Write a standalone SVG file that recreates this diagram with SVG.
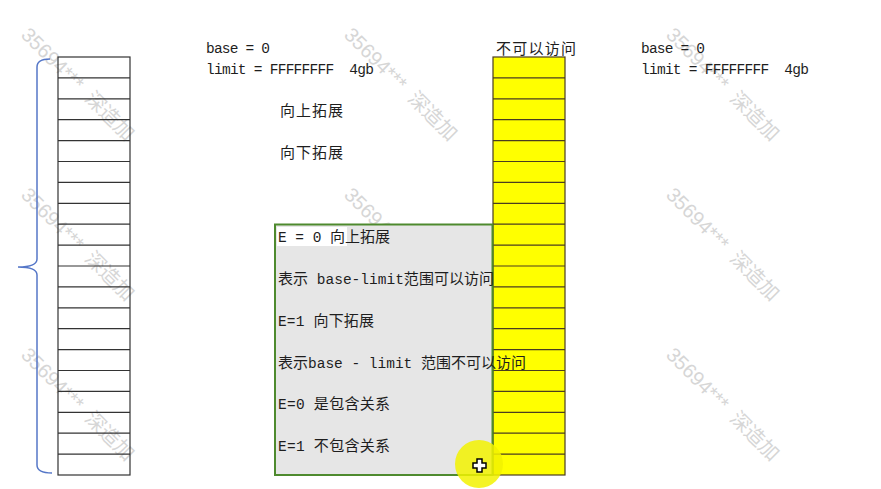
<svg xmlns="http://www.w3.org/2000/svg" width="881" height="489" viewBox="0 0 881 489">
<style>
.t{font-family:"Liberation Mono","Noto Sans CJK SC",monospace;font-size:14.5px;fill:#1e1e1e}
.c{font-family:"Noto Sans CJK SC",sans-serif;font-size:15px}
.wm{font-family:"Liberation Sans","Noto Sans CJK SC",sans-serif;font-size:20px;fill:#d6d6d6}
.rl{stroke:#333;stroke-width:1.2}
.yl{stroke:#4a3d20;stroke-width:1.2}
</style>
<defs>
<g id="rowlines">
<line x1="0" y1="77.9" x2="72" y2="77.9"/><line x1="0" y1="98.8" x2="72" y2="98.8"/><line x1="0" y1="119.7" x2="72" y2="119.7"/><line x1="0" y1="140.6" x2="72" y2="140.6"/><line x1="0" y1="161.5" x2="72" y2="161.5"/><line x1="0" y1="182.4" x2="72" y2="182.4"/><line x1="0" y1="203.3" x2="72" y2="203.3"/><line x1="0" y1="224.2" x2="72" y2="224.2"/><line x1="0" y1="245.1" x2="72" y2="245.1"/><line x1="0" y1="266" x2="72" y2="266"/><line x1="0" y1="286.9" x2="72" y2="286.9"/><line x1="0" y1="307.8" x2="72" y2="307.8"/><line x1="0" y1="328.7" x2="72" y2="328.7"/><line x1="0" y1="349.6" x2="72" y2="349.6"/><line x1="0" y1="370.5" x2="72" y2="370.5"/><line x1="0" y1="391.4" x2="72" y2="391.4"/><line x1="0" y1="412.3" x2="72" y2="412.3"/><line x1="0" y1="433.2" x2="72" y2="433.2"/><line x1="0" y1="454.1" x2="72" y2="454.1"/>
</g>
</defs>
<rect width="881" height="489" fill="#fff"/>
<g id="watermarks">
<text class="wm" transform="translate(20,36) rotate(45)" xml:space="preserve">35694***  深造加</text>
<text class="wm" transform="translate(343,36) rotate(45)" xml:space="preserve">35694***  深造加</text>
<text class="wm" transform="translate(665,36) rotate(45)" xml:space="preserve">35694***  深造加</text>
<text class="wm" transform="translate(20,196) rotate(45)" xml:space="preserve">35694***  深造加</text>
<text class="wm" transform="translate(343,196) rotate(45)" xml:space="preserve">35694***  深造加</text>
<text class="wm" transform="translate(665,196) rotate(45)" xml:space="preserve">35694***  深造加</text>
<text class="wm" transform="translate(20,356) rotate(45)" xml:space="preserve">35694***  深造加</text>
<text class="wm" transform="translate(343,356) rotate(45)" xml:space="preserve">35694***  深造加</text>
<text class="wm" transform="translate(665,356) rotate(45)" xml:space="preserve">35694***  深造加</text>
</g>
<g id="left-column">
<use href="#rowlines" x="58" class="rl"/>
<rect x="58" y="57" width="72" height="418" fill="none" stroke="#333" stroke-width="1.2"/>
</g>
<g id="brace">
<path d="M50,59 Q37,59 37,67 L37,259 Q37,267 18,267 Q37,267 37,275 L37,465 Q37,473 52,473" fill="none" stroke="#5577c8" stroke-width="1.5"/>
</g>
<g id="yellow-column">
<rect x="493" y="57" width="72" height="418" fill="#ffff00"/>
<use href="#rowlines" x="493" class="yl"/>
<rect x="493" y="57" width="72" height="418" fill="none" stroke="#4a3d20" stroke-width="1.2"/>
</g>
<g id="top-labels">
<text class="t" x="206" y="53" textLength="64">base = 0</text>
<text class="t" x="206" y="74" textLength="168" xml:space="preserve">limit = FFFFFFFF  4gb</text>
<text class="t" x="280" y="116" textLength="63"><tspan class="c">向上拓展</tspan></text>
<text class="t" x="280" y="158" textLength="63"><tspan class="c">向下拓展</tspan></text>
<text class="t" x="496" y="54" textLength="80"><tspan class="c">不可以访问</tspan></text>
<text class="t" x="641" y="53" textLength="64">base = 0</text>
<text class="t" x="641" y="74" textLength="168" xml:space="preserve">limit = FFFFFFFF  4gb</text>
</g>
<g id="info-box">
<rect x="275" y="224.5" width="217.5" height="250.5" fill="#e6e6e6" stroke="#4e8a2e" stroke-width="2"/>
<rect x="277" y="227" width="70" height="19" fill="#ffffff"/>
<text class="t" x="278" y="242" textLength="112" xml:space="preserve">E = 0 <tspan class="c">向上拓展</tspan></text>
<text class="t" x="278" y="284" textLength="216" xml:space="preserve"><tspan class="c">表示</tspan> base-limit<tspan class="c">范围可以访问</tspan></text>
<text class="t" x="278" y="326" textLength="96" xml:space="preserve">E=1 <tspan class="c">向下拓展</tspan></text>
<text class="t" x="278" y="368" textLength="248" xml:space="preserve"><tspan class="c">表示</tspan>base - limit <tspan class="c">范围不可以访问</tspan></text>
<text class="t" x="278" y="409" textLength="112" xml:space="preserve">E=0 <tspan class="c">是包含关系</tspan></text>
<text class="t" x="278" y="451" textLength="112" xml:space="preserve">E=1 <tspan class="c">不包含关系</tspan></text>
</g>
<g id="cursor">
<circle cx="479" cy="464" r="24" fill="#f2f200" opacity="0.85"/>
<path d="M477,459 h5 v4 h4 v5 h-4 v4 h-5 v-4 h-4 v-5 h4 z" fill="#fff" stroke="#000" stroke-width="1.5"/>
</g>
</svg>
